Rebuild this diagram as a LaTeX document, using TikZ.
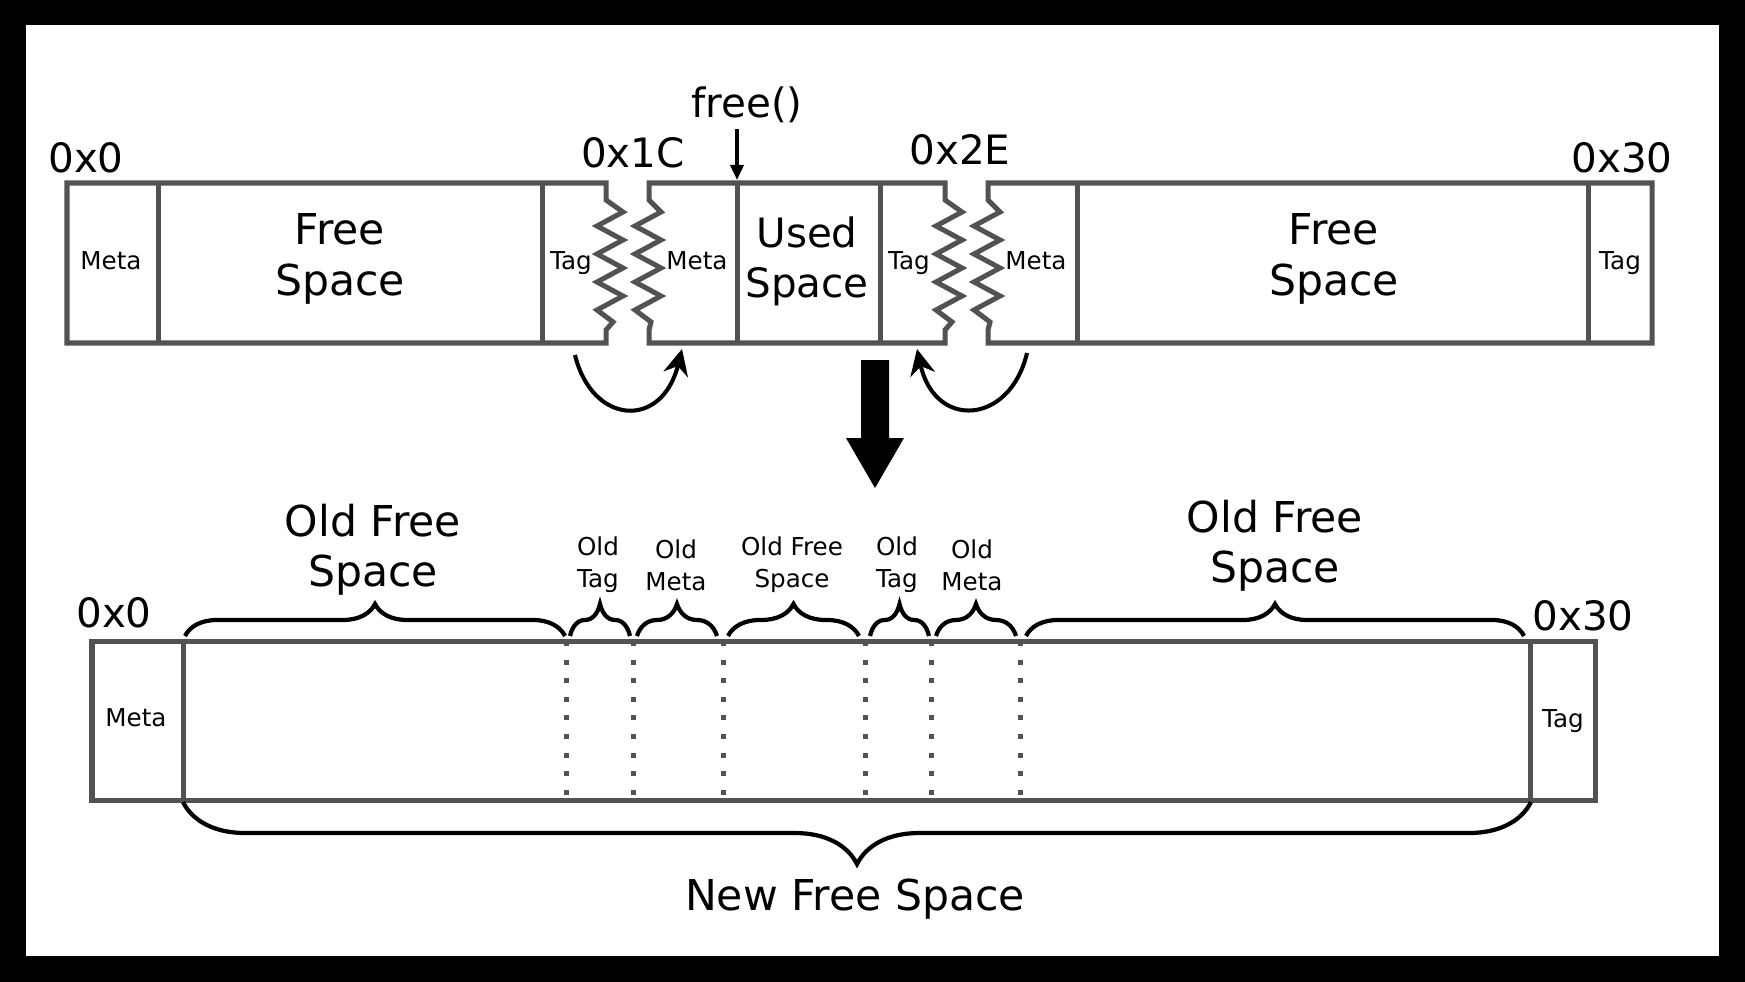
\documentclass[tikz,border=0pt]{standalone}
\usepackage{fontspec}
\setmainfont{DejaVu Sans}
\usepackage{xcolor}
\usepackage{tikz}
\usetikzlibrary{arrows.meta,decorations.pathreplacing}

\definecolor{cellgray}{RGB}{82,82,82}
\newcommand{\bigtxt}{\fontsize{11.5}{14.3}\selectfont}
\newcommand{\hugetxt}{\fontsize{12.1}{14.3}\selectfont}
\newcommand{\smalltxt}{\fontsize{7}{9.1}\selectfont}

\begin{document}
\begin{tikzpicture}[x=0.01cm,y=-0.01cm,
    cell/.style={draw=cellgray,line width=0.05cm},
    oldedge/.style={draw=cellgray,line width=0.05cm,dash pattern=on 0.05cm off 0.136cm},
    lbl/.style={font=\bigtxt,align=center,inner sep=0pt},
    space/.style={font=\hugetxt,align=center,inner sep=0pt},
    sml/.style={font=\smalltxt,align=center,inner sep=0pt},
    brc/.style={decorate,decoration={brace,amplitude=0.32cm},line width=1.2pt},
    bigbrc/.style={decorate,decoration={brace,amplitude=0.62cm},line width=1.2pt},
    curl/.style={line width=1.15pt,-{Stealth[length=0.26cm,width=0.25cm]}},
    zigdown/.style={insert path={-- ++(0,17) -- ++(17,12) -- ++(-26,14) -- ++(26,14) -- ++(-26,14) -- ++(26,14) -- ++(-26,14) -- ++(26,14) -- ++(-26,14) -- ++(16,12) -- ++(-7,8) -- ++(0,13)}},
    zigup/.style={insert path={-- ++(0,-13) -- ++(2,-8) -- ++(-16,-12) -- ++(26,-14) -- ++(-26,-14) -- ++(26,-14) -- ++(-26,-14) -- ++(26,-14) -- ++(-26,-14) -- ++(26,-14) -- ++(-12,-12) -- ++(0,-17)}}]

% frame
\fill[black] (0,0) rectangle (1745,982);
\fill[white] (26,25) rectangle (1719,956);

% heap before free()
\draw[cell] (67,183) -- (606,183) [zigdown] -- (67,343) -- cycle;
\draw[cell] (649,183) -- (945,183) [zigdown] -- (649,343) [zigup] -- cycle;
\draw[cell] (988,343) [zigup] -- (1652,183) -- (1652,343) -- cycle;
\foreach \x in {158,542,737,880,1077,1588}
  \draw[cell] (\x,183) -- (\x,343);

\node[lbl,anchor=base] (hex0) at (86,173) {0x0};
\node[lbl,anchor=base] (hex1C) at (633,168) {0x1C};
\node[lbl,anchor=base] (hex2E) at (960,165) {0x2E};
\node[lbl,anchor=base] (hex30) at (1622,173) {0x30};
\node[lbl,anchor=base] (freecall) at (747,118) {free()};

\node[sml,anchor=base] (metaA) at (111,269) {Meta};
\node[space] (freeA) at (340,259) {Free\\Space};
\node[sml,anchor=base] (tagA) at (571,269) {Tag};
\node[sml,anchor=base] (metaB) at (697,269) {Meta};
\node[lbl] (usedB) at (807,261) {Used\\Space};
\node[sml,anchor=base] (tagB) at (909,269) {Tag};
\node[sml,anchor=base] (metaC) at (1036,269) {Meta};
\node[space] (freeC) at (1334,259) {Free\\Space};
\node[sml,anchor=base] (tagC) at (1620,269) {Tag};

\coordinate (callend) at (737,180);
\draw[line width=1pt,-{Triangle[length=0.15cm,width=0.13cm]},shorten <=0.05cm] (freecall.south -| callend) -- (callend);

% merging arrows
\coordinate (tagAout) at (575,355);
\coordinate (metaBin) at (682,349);
\coordinate (metaCout) at (1027,353);
\coordinate (tagBin) at (917,349);
\draw[curl] (tagAout) .. controls +(17,70) and +(-20,81) .. (metaBin);
\draw[curl] (metaCout) .. controls +(-17,72) and +(18,81) .. (tagBin);

\fill (861,360) -- (889,360) -- (889,438) -- (904,438) -- (875,488) -- (846,438) -- (861,438) -- cycle;

% heap after free()
\draw[cell] (92,641) rectangle (1595,800);
\foreach \x in {183,1530}
  \draw[cell] (\x,641) -- (\x,800);
\foreach \x in {566,633,723,865,931,1020}
  \draw[oldedge] (\x,641) -- (\x,800);

\node[lbl,anchor=base] (hexN0) at (114,627) {0x0};
\node[lbl,anchor=base] (hexN30) at (1583,630) {0x30};
\node[sml,anchor=base] (metaN) at (136,726) {Meta};
\node[sml,anchor=base] (tagN) at (1563,727) {Tag};

\node[space] (oldfreeL) at (373,550) {Old Free\\Space};
\node[sml] (oldtagL) at (598,565) {Old\\Tag};
\node[sml] (oldmetaL) at (676,565) {Old\\Meta};
\node[sml] (oldfreeM) at (792,565) {Old Free\\Space};
\node[sml] (oldtagR) at (897,565) {Old\\Tag};
\node[sml] (oldmetaR) at (972,565) {Old\\Meta};
\node[space] (oldfreeR) at (1275,546) {Old Free\\Space};

\draw[brc] (185,636) -- (565,636);
\draw[brc] (570,636) -- (630,636);
\draw[brc] (637,636) -- (717,636);
\draw[brc] (728,636) -- (859,636);
\draw[brc] (870,636) -- (929,636);
\draw[brc] (936,636) -- (1016,636);
\draw[brc] (1026,636) -- (1524,636);
\draw[bigbrc] (1531,802) -- (183,802);

\node[space,anchor=base] (newfree) at (855,910) {New Free Space};
\end{tikzpicture}
\end{document}
